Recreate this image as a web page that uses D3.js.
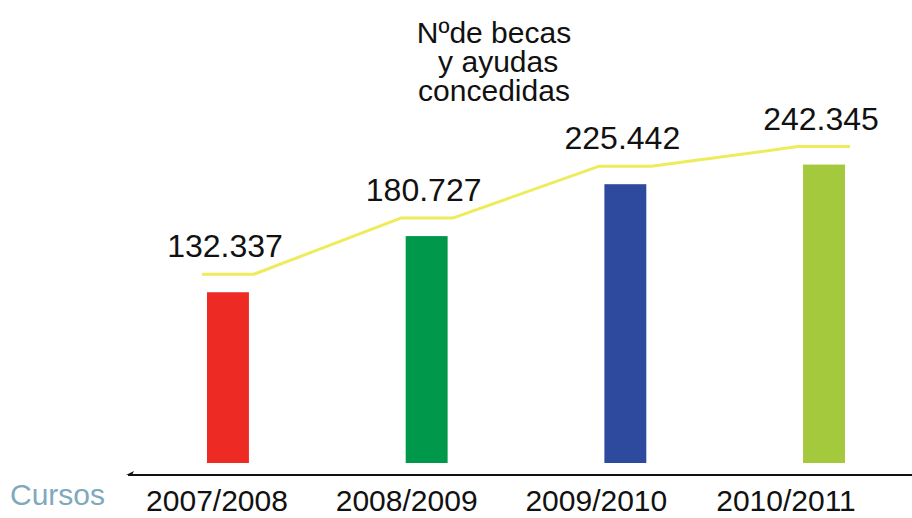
<!DOCTYPE html>
<html><head><meta charset="utf-8">
<script src="https://cdn.jsdelivr.net/npm/d3@7"></script>
<style>html,body{margin:0;padding:0;background:#fff;}svg{display:block;}</style>
</head><body>
<svg id="c" width="912" height="518"></svg>
<script>
const categories = ["2007/2008", "2008/2009", "2009/2010", "2010/2011"];
const values = [132337, 180727, 225442, 242345];
const valueLabels = ["132.337", "180.727", "225.442", "242.345"];
const barColors = ["#ee2a24", "#00984a", "#2e4a9e", "#a4c93c"];
const titleLines = ["Nºde becas", " y ayudas", "concedidas"];
const axisTitle = "Cursos";

const svg = d3.select("#c");
const font = "'Liberation Sans', Arial, sans-serif";

const x = d3.scaleBand().domain(categories).range([207, 845]).paddingInner(0.789).paddingOuter(0);
const xLab = d3.scalePoint().domain(categories).range([217, 786]);
const y = d3.scaleLinear().domain([-14800, 250000]).range([463, 155.7]);

// bars
svg.selectAll("rect.bar").data(categories).join("rect")
  .attr("x", d => x(d)).attr("width", x.bandwidth())
  .attr("y", (d, i) => y(values[i])).attr("height", (d, i) => y.range()[0] - y(values[i]))
  .attr("fill", (d, i) => barColors[i]);

// yellow line
const pts = [];
categories.forEach((c, i) => {
  const yy = y(values[i]) - 18;
  pts.push([x(c) - 5, yy], [x(c) + x.bandwidth() + 5, yy]);
});
svg.append("path").attr("d", d3.line()(pts))
  .attr("fill", "none").attr("stroke", "#eeec5c").attr("stroke-width", 3).attr("stroke-linejoin", "round");

// value labels
svg.selectAll("text.val").data(categories).join("text")
  .attr("x", d => x(d) + x.bandwidth() / 2 - 3)
  .attr("y", (d, i) => y(values[i]) - 35)
  .attr("text-anchor", "middle").attr("font-family", font).attr("font-size", 32)
  .attr("fill", "#111").text((d, i) => valueLabels[i]);

// axis line with arrow
const axisY = 475;
svg.append("line").attr("x1", 128).attr("x2", 912).attr("y1", axisY).attr("y2", axisY)
  .attr("stroke", "#111").attr("stroke-width", 2);
svg.append("path").attr("d", `M126,${axisY} L134,${axisY - 4} L132,${axisY} Z`).attr("fill", "#111");

// category labels
svg.selectAll("text.cat").data(categories).join("text")
  .attr("x", d => xLab(d)).attr("y", 511)
  .attr("text-anchor", "middle").attr("font-family", font).attr("font-size", 30)
  .attr("fill", "#111").text(d => d);

// axis title
svg.append("text").attr("x", 10).attr("y", 505).attr("font-family", font).attr("font-size", 30)
  .attr("fill", "#7fa9bd").text(axisTitle);

// title
svg.append("text").attr("font-family", font).attr("font-size", 30).attr("fill", "#111")
  .attr("text-anchor", "middle")
  .selectAll("tspan").data(titleLines).join("tspan")
  .attr("x", 494).attr("y", (d, i) => 43 + i * 29).attr("xml:space", "preserve").text(d => d);
</script>
</body></html>
